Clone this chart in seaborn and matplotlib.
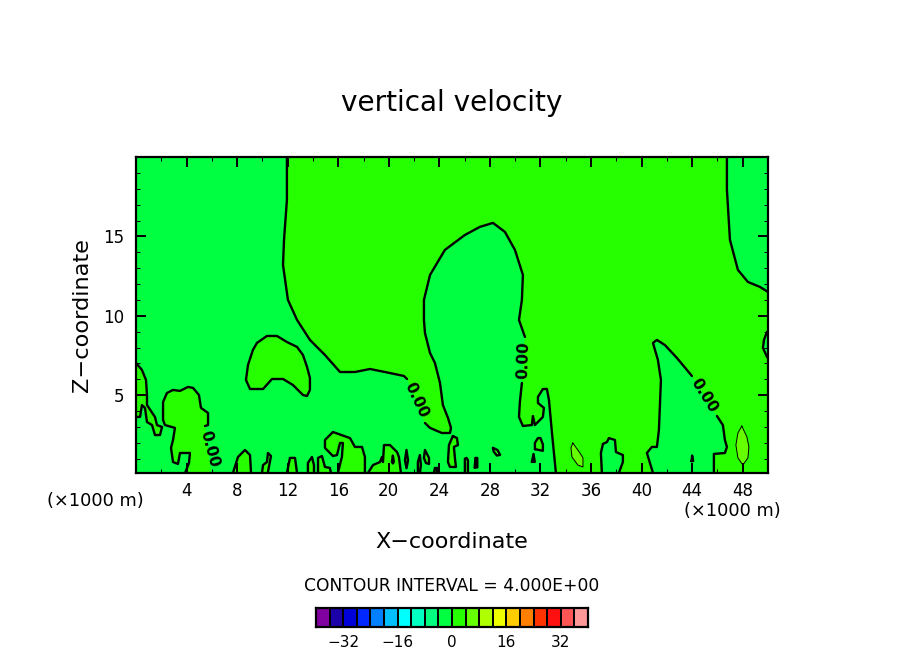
import numpy as np
import matplotlib
matplotlib.use("Agg")
import matplotlib.pyplot as plt
from matplotlib.colors import ListedColormap
import seaborn as sns

n = np.nan

# colour scale of the plot
level_centres = [-38, -34, -30, -26, -22, -18, -14, -10, -6, -2, 2, 6, 10, 14, 18, 22, 26, 30, 34, 38]
level_colours = ["#8000A0", "#1C00A8", "#0000D8", "#0028FF", "#0080FF", "#00BFFF", "#00FFFF", "#00FFC0",
                 "#00FF80", "#00FF40", "#26FF00", "#66FF00", "#B0FF00", "#F0FF00", "#FFCC00", "#FF8000",
                 "#FF3300", "#FF1010", "#FF5555", "#FF9999"]
scale_ticks = [-32, -16, 0, 16, 32]
x_major = [4, 8, 12, 16, 20, 24, 28, 32, 36, 40, 44, 48]
x_minor = [2, 6, 10, 14, 18, 22, 26, 30, 34, 38, 42, 46, 50]
z_major = [5, 10, 15]
z_minor = [1, 2, 3, 4, 6, 7, 8, 9, 11, 12, 13, 14, 16, 17, 18, 19]

# zero contour of the large updraft region; nan = gap in the drawn line
# (the lone point 50, 0.1 is the lower right corner: filled, no line)
main_x = [11.94, 11.94, 11.71, 11.63, 12.02, 12.74, 13.76, 14.95, 16.14, 17.32, 18.51, 19.7, 21.2, 21.44, n,
          22.86, 23.26, 24.2, 24.84, 24.92, 24.68, 24.28, 24.05, 23.65, 23.26, 22.86, 22.78, 22.78, 23.26, 24.44,
          26.02, 27.21, 28.24, 29.19, 29.98, 30.61, 30.53, 30.3, 30.77, n,
          30.53, 30.37, 30.3, 30.61, 31.32, 31.4, 31.56, 32.19, 32.27, 31.8, 31.8, 32.19, 32.51, 32.67, 32.91, 33.22, n,
          40.9, 40.42, 40.81, 41.21, 41.37, 41.53, 41.29, 40.9, 41.21, 41.84, 42.79, 43.98, n,
          45.96, 46.43, 46.59, 46.75, 46.59, 45.72, 45.72, n,
          50, n,
          50, 49.36, 48.41, 47.62, 46.99, 46.75, 46.75]
main_z = [20, 17.3, 14.78, 13.2, 11.0, 9.74, 8.48, 7.53, 6.46, 6.46, 6.65, 6.46, 6.21, 6.02, n,
          3.25, 2.94, 2.62, 2.62, 2.94, 3.57, 4.38, 5.77, 7.03, 7.66, 8.92, 9.74, 11.0, 12.57, 14.15,
          15.09, 15.6, 15.85, 15.28, 14.15, 12.57, 11.0, 9.74, 8.67, n,
          5.77, 4.57, 3.63, 3.06, 3.12, 3.69, 3.12, 3.63, 4.2, 4.51, 4.89, 5.39, 5.39, 4.7, 2.62, 0.1, n,
          0.1, 1.36, 1.74, 1.74, 2.81, 5.96, 7.22, 8.29, 8.48, 8.16, 7.35, 6.21, n,
          3.69, 3.12, 2.18, 1.74, 1.36, 1.3, 0.1, n,
          0.1, n,
          11.5, 11.82, 12.13, 12.89, 14.78, 17.93, 20]

# positive regions
blob_b_x = [3.88, 4.19, 4.27, 3.48, 3.32, 2.93, 2.77, 2.93, 3.08, 2.29, 2.14, 2.14, 2.45, 2.93, 3.48, 4.11, 4.51,
            4.98, 5.14, 5.7, 5.7, 5.46, n, 5.95]
blob_b_z = [0.1, 0.73, 1.36, 1.36, 0.67, 0.79, 1.68, 2.18, 2.94, 3.12, 3.44, 4.57, 5.14, 5.33, 5.27, 5.52, 5.46,
            5.01, 4.2, 3.88, 3.12, 3.06, n, 0.1]
edge_c_x = [0, 0.47, 0.79, 0.87, 0.87, 1.5, 1.66, 2.06, 1.9, 1.5, 1.27, 0.87, 0.71, 0.47, 0.32, 0]
edge_c_z = [7.03, 6.59, 5.96, 5.01, 4.38, 3.63, 3.12, 3.0, 2.49, 2.49, 3.12, 3.31, 4.2, 4.38, 3.63, 3.63]
blob_d_x = [9.57, 10.36, 11.15, 11.94, 12.74, 13.21, 13.53, 13.76, 13.76, 13.53, 13.21, 12.42, 11.63, 10.76, 10.05,
            9.02, 8.7, 8.86, 9.25, 9.57]
blob_d_z = [8.29, 8.73, 8.73, 8.35, 8.04, 7.53, 6.78, 6.09, 5.33, 4.95, 5.01, 5.64, 6.02, 6.02, 5.39, 5.39, 5.96,
            6.9, 7.85, 8.29]
cell_e_x = [7.67, 8.07, 8.62, 9.02, 9.1]
cell_e_z = [0.1, 1.11, 1.55, 1.23, 0.1]
cell_f_x = [9.97, 10.05, 10.36, 10.44, 10.68, 10.44]
cell_f_z = [0.1, 0.6, 0.79, 1.36, 1.17, 0.16]
cell_g_x = [11.94, 12.18, 12.58, 12.74]
cell_g_z = [0.1, 1.05, 1.05, 0.1]
cell_h_x = [13.6, 13.6, 13.92, 14.08, 14.08]
cell_h_z = [0.1, 0.73, 1.11, 0.6, 0.1]
cell_i_x = [14.4, 14.4, 14.71, 14.95, 15.34, 15.42]
cell_i_z = [0.1, 1.05, 1.17, 0.48, 0.42, 0.1]
cell_j_x = [15.97, 16.29, 16.37, 16.14, 15.9, 15.58, 14.95, 14.95, 15.58, 16.93, 17.32, 17.88, 18.11, 18.11]
cell_j_z = [0.1, 1.11, 1.99, 1.99, 1.23, 1.17, 1.68, 2.18, 2.68, 2.3, 1.74, 1.74, 1.11, 0.1]
cell_k_x = [18.35, 18.75, 19.3, 19.46, 19.54, 19.62, 20.09, 20.65, 20.8, 20.96]
cell_k_z = [0.1, 0.6, 0.79, 1.11, 0.79, 1.86, 1.86, 1.42, 1.11, 0.1]
cell_l_x = [21.28, 21.4, 21.52, 21.4, 21.28]
cell_l_z = [0.9, 1.55, 0.9, 0.4, 0.9]
cell_m_x = [22.3, 22.3, 22.46, 22.54, 22.46]
cell_m_z = [0.1, 0.79, 1.23, 0.6, 0.1]
cell_n_x = [22.78, 22.86, 23.18, 23.18, 22.94, 22.78]
cell_n_z = [1.05, 1.55, 1.05, 0.67, 0.73, 1.05]
cell_o_x = [23.57, 23.65, 23.81, 23.81]
cell_o_z = [0.1, 0.42, 0.42, 0.1]
cell_q_x = [25.07, 25.39, 25.47, 25.15, 25.23, 25.31, 24.84, 24.68, 24.76, 25.0, 25.07]
cell_q_z = [2.43, 2.3, 1.86, 1.74, 1.05, 0.48, 0.48, 0.79, 1.86, 2.3, 2.43]
cell_r_x = [26.02, 26.02, 26.15, 26.26, 26.26]
cell_r_z = [0.1, 1.0, 1.05, 0.9, 0.1]
cell_s_x = [26.8, 26.85, 27.0, 27.0, 26.8]
cell_s_z = [0.45, 1.05, 1.05, 0.45, 0.45]
cell_t_x = [28.24, 28.6, 28.8, 28.55, 28.3, 28.24]
cell_t_z = [1.68, 1.55, 1.24, 1.2, 1.45, 1.68]
cell_u_x = [31.56, 31.56, 31.8, 32.0, 32.19, 32.19, 31.56]
cell_u_z = [1.6, 2.0, 2.3, 2.3, 1.9, 1.5, 1.6]
cell_v_x = [31.32, 31.45, 31.55, 31.32]
cell_v_z = [0.8, 1.3, 0.8, 0.8]
cell_w_x = [43.95, 44.0, 44.08, 43.95]
cell_w_z = [0.85, 1.2, 0.85, 0.85]

# negative pockets lying inside the positive region
pocket_x_x = [50, 49.92, 49.68, 49.6, 49.92, 50]
pocket_x_z = [8.99, 8.99, 8.48, 7.98, 7.41, 7.35]
pocket_y_x = [36.86, 36.78, 36.94, 37.26, 37.41, 37.89, 37.97, 38.52, 38.52, 38.2]
pocket_y_z = [0.1, 1.36, 1.93, 2.05, 2.3, 2.18, 1.42, 1.23, 0.79, 0.1]
pocket_k_x = [20.25, 20.32, 20.4, 20.32, 20.25]
pocket_k_z = [0.8, 1.2, 0.8, 0.7, 0.8]

# islands above the 4 contour
island_1_x = [34.56, 35.12, 35.36, 35.36, 34.96, 34.49, 34.41, 34.56]
island_1_z = [1.99, 1.36, 1.05, 0.48, 0.6, 1.11, 1.68, 1.99]
island_2_x = [47.93, 48.33, 48.49, 48.41, 48.01, 47.62, 47.46, 47.62, 47.93]
island_2_z = [3.06, 2.37, 1.74, 1.05, 0.6, 1.05, 1.86, 2.62, 3.06]

# contour labels: x, z, rotation
label_x = [5.85, 22.15, 30.62, 44.93]
label_z = [1.6, 4.7, 7.22, 5.01]
label_rot = [-75, -65, 88, -58]

NEG, POS, POS2 = level_colours[9], level_colours[10], level_colours[11]

sns.set_style("white")
plt.rcParams["font.family"] = ["DejaVu Sans"]
fig = plt.figure(figsize=(9.04, 6.54), dpi=100, facecolor="white")
ax = fig.add_axes([136 / 904, 1 - 473 / 654, 632 / 904, 316 / 654])
ax.set_facecolor(NEG)


def region(xs, zs, colour, lw=1.7):
    xs = np.asarray(xs, float)
    zs = np.asarray(zs, float)
    keep = ~np.isnan(xs)
    ax.fill(xs[keep], zs[keep], color=colour, lw=0, zorder=1)
    breaks = np.flatnonzero(~keep)
    for sx, sz in zip(np.split(xs, breaks), np.split(zs, breaks)):
        sx, sz = sx[~np.isnan(sx)], sz[~np.isnan(sz)]
        if len(sx) > 1:
            sns.lineplot(x=sx, y=sz, sort=False, estimator=None, color="black",
                         linewidth=lw, ax=ax, legend=False, zorder=2)


for xs, zs in [(main_x, main_z), (blob_b_x, blob_b_z), (edge_c_x, edge_c_z), (blob_d_x, blob_d_z),
               (cell_e_x, cell_e_z), (cell_f_x, cell_f_z), (cell_g_x, cell_g_z), (cell_h_x, cell_h_z),
               (cell_i_x, cell_i_z), (cell_j_x, cell_j_z), (cell_k_x, cell_k_z), (cell_l_x, cell_l_z),
               (cell_m_x, cell_m_z), (cell_n_x, cell_n_z), (cell_o_x, cell_o_z), (cell_q_x, cell_q_z),
               (cell_r_x, cell_r_z), (cell_s_x, cell_s_z), (cell_t_x, cell_t_z), (cell_u_x, cell_u_z),
               (cell_v_x, cell_v_z), (cell_w_x, cell_w_z)]:
    region(xs, zs, POS)
for xs, zs in [(pocket_x_x, pocket_x_z), (pocket_y_x, pocket_y_z), (pocket_k_x, pocket_k_z)]:
    region(xs, zs, NEG)
for xs, zs in [(island_1_x, island_1_z), (island_2_x, island_2_z)]:
    region(xs, zs, POS2, lw=0.7)

for lx, lz, rot in zip(label_x, label_z, label_rot):
    ax.text(lx, lz, "0.00", rotation=rot, rotation_mode="anchor", ha="center", va="center",
            fontsize=11, fontweight="bold", color="black", zorder=3)

ax.set_xlim(0, 50)
ax.set_ylim(0.1, 20)
ax.set_xticks(x_major)
ax.set_xticks(x_minor, minor=True)
ax.set_yticks(z_major)
ax.set_yticks(z_minor, minor=True)
ax.set_axisbelow(False)
ax.tick_params(which="major", direction="in", top=True, right=True, bottom=True, left=True,
               length=7.2, width=1.44, labelsize=12, color="black", labelcolor="black")
ax.tick_params(axis="x", which="major", pad=6.5)
ax.tick_params(axis="y", which="major", pad=8.5)
ax.tick_params(which="minor", direction="in", top=True, right=True, bottom=True, left=True,
               length=2.9, width=0.72, color="black")
for sp in ax.spines.values():
    sp.set_visible(True)
    sp.set_linewidth(1.6)
    sp.set_color("black")

ax.set_title("vertical velocity", fontsize=20.1, color="black", pad=33)
ax.set_xlabel("X\u2212coordinate", fontsize=16, color="black", labelpad=23)
ax.set_ylabel("Z\u2212coordinate", fontsize=16.2, color="black", labelpad=8)
fig.text(95.5 / 904, 1 - 501 / 654, "(\u00d71000 m)", ha="center", va="center", fontsize=12.8, color="black")
fig.text(732.5 / 904, 1 - 511 / 654, "(\u00d71000 m)", ha="center", va="center", fontsize=12.8, color="black")
fig.text(452 / 904, 1 - 586 / 654, "CONTOUR INTERVAL = 4.000E+00", ha="center", va="center", fontsize=12.3, color="black")

cax = fig.add_axes([316 / 904, 1 - 627 / 654, 272 / 904, 19 / 654])
sns.heatmap(np.array([level_centres]), cmap=ListedColormap(level_colours), vmin=-40, vmax=40, cbar=False,
            linewidths=1.4, linecolor="black", xticklabels=False, yticklabels=False, ax=cax)
cax.set_xticks([(v + 40) / 4 for v in scale_ticks])
cax.set_xticklabels([str(v).replace("-", "\u2212") for v in scale_ticks], fontsize=11, color="black")
cax.tick_params(axis="x", length=0, pad=5.5, bottom=True)
cax.set_yticks([])
for sp in cax.spines.values():
    sp.set_visible(True)
    sp.set_linewidth(1.6)
    sp.set_color("black")

fig.savefig("out.png", dpi=100, facecolor="white")
